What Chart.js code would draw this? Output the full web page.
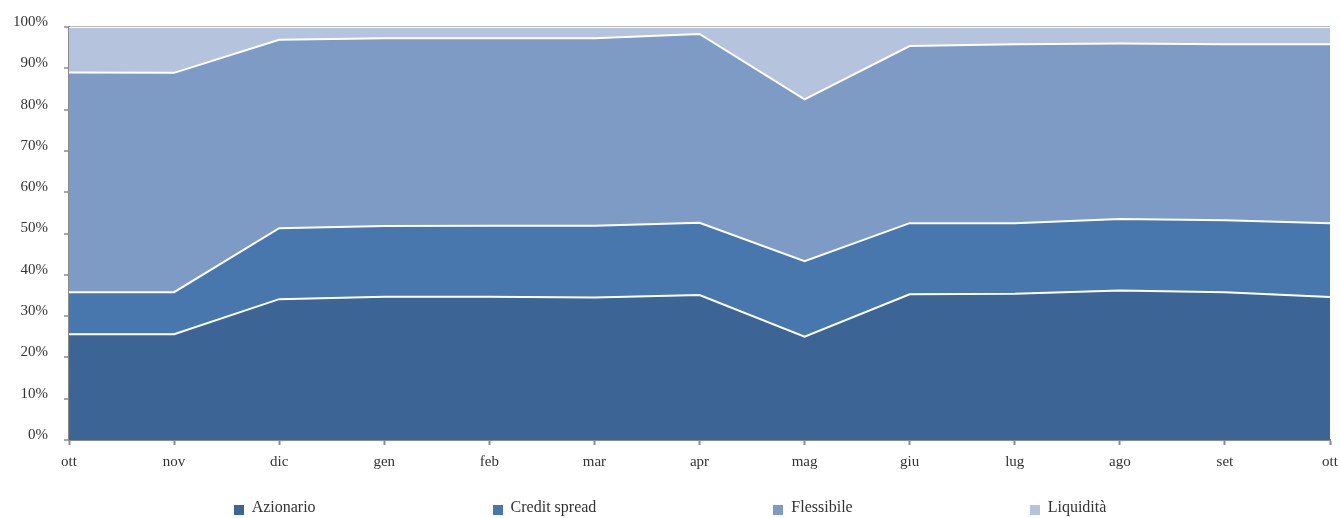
<!DOCTYPE html>
<html>
<head>
<meta charset="utf-8">
<script src="https://cdn.jsdelivr.net/npm/chart.js@4"></script>
<style>
  html, body { margin:0; padding:0; background:#fff; }
  #wrap { position:relative; width:1340px; height:518px; }
  #legend { position:absolute; left:0; top:498px; width:1340px; display:flex; justify-content:center; gap:177px;
            font-family:"Liberation Serif", "DejaVu Serif", serif; font-size:16px; color:#333; padding-left:0; }
  .li { display:flex; align-items:flex-end; white-space:nowrap; }
  .sw { width:10px; height:10px; margin-right:8px; margin-bottom:1px; }
</style>
</head>
<body>
<div id="wrap">
  <canvas id="c" width="1340" height="518"></canvas>
  <div id="legend"></div>
</div>
<script>
const categories = ["ott","nov","dic","gen","feb","mar","apr","mag","giu","lug","ago","set","ott"];
const azionario    = [25.6,25.6,34.1,34.7,34.7,34.5,35.1,25.0,35.3,35.4,36.2,35.8,34.6];
const creditSpread = [10.2,10.2,17.2,17.1,17.2,17.4,17.5,18.3,17.2,17.1,17.3,17.4,17.9];
const flessibile   = [53.2,53.1,45.6,45.5,45.4,45.4,45.7,39.2,42.9,43.3,42.5,42.6,43.3];
const liquidita    = [11.0,11.1,3.1,2.7,2.7,2.7,1.7,17.5,4.6,4.2,4.0,4.2,4.2];
const yTicks = [0,10,20,30,40,50,60,70,80,90,100];

const seriesNames = ["Azionario","Credit spread","Flessibile","Liquidità"];
const seriesColors = ["#3c6494","#4877ae","#7e9bc6","#b5c3dd"];
const seriesData = [azionario, creditSpread, flessibile, liquidita];

const FONT = "'Liberation Serif', 'DejaVu Serif', serif";

const datasets = seriesData.map((d, i) => ({
  label: seriesNames[i],
  data: d,
  backgroundColor: seriesColors[i],
  borderColor: "#ffffff",
  borderWidth: 2,
  pointRadius: 0,
  tension: 0,
  fill: i === 0 ? "origin" : "-1"
}));

const chart = new Chart(document.getElementById("c"), {
  type: "line",
  data: { labels: categories, datasets },
  options: {
    responsive: false,
    animation: false,
    layout: { padding: { top: 27, right: 10, bottom: 38, left: 0 } },
    plugins: { legend: { display: false }, tooltip: { enabled: false } },
    scales: {
      x: {
        offset: false,
        grid: { display: true, drawOnChartArea: false, tickLength: 5, tickColor: "#8a8a8a", tickWidth: 2 },
        border: { color: "#8a8a8a", width: 2 },
        ticks: { font: { family: FONT, size: 15 }, color: "#333", padding: 8, maxRotation: 0, autoSkip: false },
        afterFit: s => { s.height = 40; s.paddingLeft = 0; s.paddingRight = 0; }
      },
      y: {
        stacked: true,
        min: 0, max: 100,
        afterBuildTicks: s => { s.ticks = yTicks.map(v => ({ value: v })); },
        grid: {
          drawOnChartArea: true, tickLength: 5, tickColor: "#8a8a8a", tickWidth: 1.5,
          color: ctx => (ctx.tick && ctx.tick.value === 100) ? "#b5b5b5" : "rgba(0,0,0,0)",
          lineWidth: ctx => (ctx.tick && ctx.tick.value === 100) ? 2 : 0
        },
        border: { color: "#8a8a8a", width: 2 },
        ticks: { font: { family: FONT, size: 15 }, color: "#333", padding: 16, labelOffset: -5,
                 callback: v => v + "%" },
        afterFit: s => { s.width = 69; s.paddingTop = 0; s.paddingBottom = 0; }
      }
    }
  }
});

const lg = document.getElementById("legend");
seriesNames.forEach((n, i) => {
  const it = document.createElement("div"); it.className = "li";
  const sw = document.createElement("span"); sw.className = "sw"; sw.style.background = seriesColors[i];
  const tx = document.createElement("span"); tx.textContent = n;
  it.appendChild(sw); it.appendChild(tx); lg.appendChild(it);
});
</script>
</body>
</html>
